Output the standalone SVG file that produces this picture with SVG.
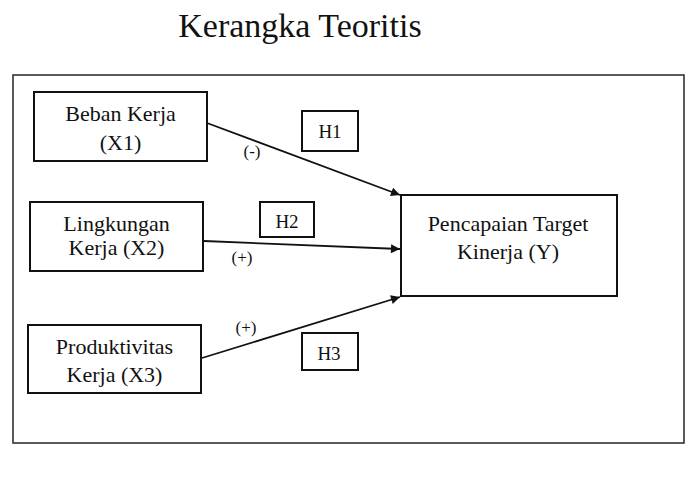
<svg xmlns="http://www.w3.org/2000/svg" width="687" height="477" viewBox="0 0 687 477">
<style>
text{font-family:"Liberation Serif","Times New Roman",serif;fill:#111;text-anchor:middle}
.t{font-size:34px}
.n{font-size:22px}
.h{font-size:19px}
.s{font-size:17px}
.box{fill:#fff;stroke:#111;stroke-width:2}
.edge{stroke:#111;stroke-width:1.8;fill:none}
</style>
<defs>
<marker id="arr" viewBox="0 0 10 10" refX="10" refY="5" markerWidth="6" markerHeight="5" orient="auto" markerUnits="strokeWidth">
<path d="M0,0 L10,5 L0,10 z" fill="#111"/>
</marker>
</defs>
<rect width="687" height="477" fill="#fff"/>
<text class="t" x="300" y="37">Kerangka Teoritis</text>
<rect x="13" y="75" width="671" height="368" fill="none" stroke="#333" stroke-width="1.6"/>
<g id="connectors">
<line class="edge" x1="207" y1="123" x2="400" y2="195" marker-end="url(#arr)"/>
<line class="edge" x1="204" y1="241" x2="400" y2="249" marker-end="url(#arr)"/>
<line class="edge" x1="202" y1="358" x2="400" y2="297" marker-end="url(#arr)"/>
<text class="s" x="252" y="157">(-)</text>
<text class="s" x="242" y="263">(+)</text>
<text class="s" x="246" y="333">(+)</text>
</g>
<g id="x1">
<rect class="box" x="34" y="92" width="173" height="69"/>
<text class="n" x="120.5" y="121">Beban Kerja</text>
<text class="n" x="120.5" y="150">(X1)</text>
</g>
<g id="x2">
<rect class="box" x="30" y="202" width="173" height="69"/>
<text class="n" x="116.5" y="231">Lingkungan</text>
<text class="n" x="116.5" y="255">Kerja (X2)</text>
</g>
<g id="x3">
<rect class="box" x="28" y="325" width="173" height="68"/>
<text class="n" x="114.5" y="354">Produktivitas</text>
<text class="n" x="114.5" y="382">Kerja (X3)</text>
</g>
<g id="y">
<rect class="box" x="401" y="195" width="216" height="101" stroke-width="2.5"/>
<text class="n" x="508" y="231">Pencapaian Target</text>
<text class="n" x="508" y="259">Kinerja (Y)</text>
</g>
<g id="h1">
<rect class="box" x="302" y="111" width="56" height="40"/>
<text class="h" x="330" y="138">H1</text>
</g>
<g id="h2">
<rect class="box" x="260" y="202" width="54" height="35"/>
<text class="h" x="287" y="228">H2</text>
</g>
<g id="h3">
<rect class="box" x="302" y="333" width="56" height="37"/>
<text class="h" x="329" y="360">H3</text>
</g>
</svg>
